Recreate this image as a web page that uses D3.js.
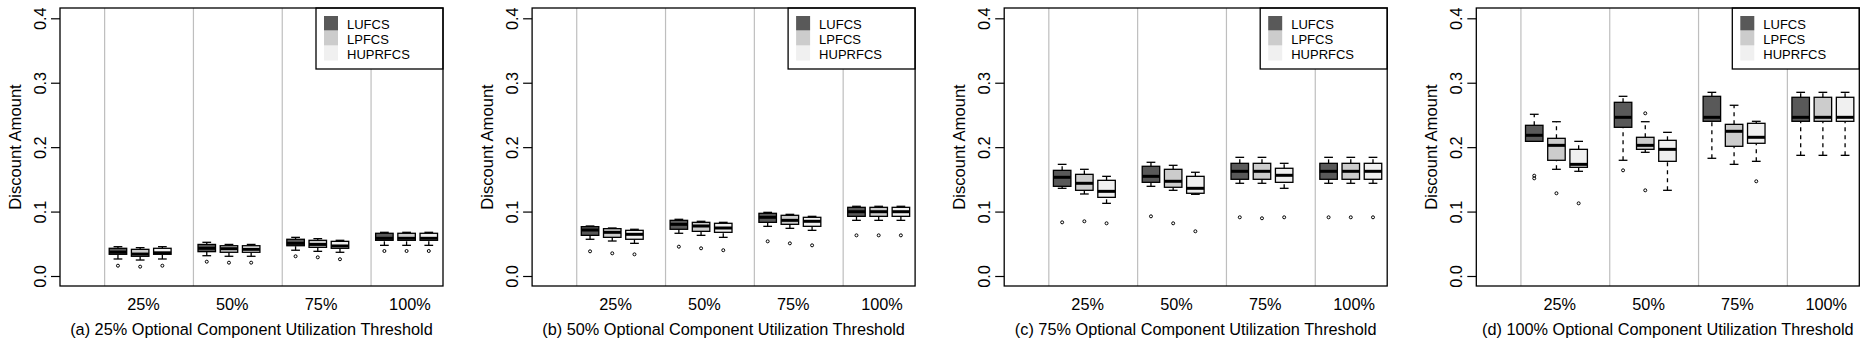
<!DOCTYPE html>
<html>
<head>
<meta charset="utf-8">
<script src="https://cdn.jsdelivr.net/npm/d3@7"></script>
<style>
  body { margin: 0; background: #fff; }
  svg text { font-family: "Liberation Sans", Arial, sans-serif; fill: #000; }
</style>
</head>
<body>
<svg></svg>
<script>
// data: each box is [lowWhisker, q1, median, q3, highWhisker]
let seriesNames = ["LUFCS", "LPFCS", "HUPRFCS"];
let groupLabels = ["25%", "50%", "75%", "100%"];
let yTicks = [0, 0.1, 0.2, 0.3, 0.4];
let panelTitles = [
    "(a) 25% Optional Component Utilization Threshold",
    "(b) 50% Optional Component Utilization Threshold",
    "(c) 75% Optional Component Utilization Threshold",
    "(d) 100% Optional Component Utilization Threshold"
];

let boxesA = [
    [[0.0264, 0.0337, 0.037, 0.043, 0.0455], [0.0315, 0.0378, 0.043, 0.049, 0.0523], [0.040, 0.047, 0.0507, 0.057, 0.060], [0.0476, 0.0554, 0.0585, 0.0663, 0.0678]],
    [[0.0248, 0.0306, 0.034, 0.0414, 0.044], [0.0306, 0.0368, 0.0424, 0.047, 0.049], [0.0383, 0.0445, 0.049, 0.0554, 0.058], [0.0476, 0.0554, 0.0585, 0.0663, 0.0678]],
    [[0.0264, 0.0337, 0.036, 0.043, 0.0455], [0.0306, 0.0368, 0.0414, 0.047, 0.049], [0.0368, 0.043, 0.0466, 0.0538, 0.0554], [0.0476, 0.0554, 0.0585, 0.0663, 0.0678]]
];
let outliersA = [
    [[0.016], [0.0222], [0.0306], [0.0388]],
    [[0.0145], [0.0207], [0.029], [0.0388]],
    [[0.016], [0.0207], [0.026], [0.0388]]
];

let boxesB = [
    [[0.057, 0.0631, 0.0714, 0.0766, 0.0776], [0.0663, 0.0725, 0.0802, 0.0864, 0.088], [0.0771, 0.0833, 0.0911, 0.0973, 0.0988], [0.0864, 0.0926, 0.0998, 0.1066, 0.1082]],
    [[0.0543, 0.060, 0.0678, 0.0735, 0.0745], [0.0631, 0.0693, 0.0776, 0.0833, 0.0849], [0.074, 0.0802, 0.0864, 0.0942, 0.0957], [0.0864, 0.0926, 0.0998, 0.1066, 0.1082]],
    [[0.0507, 0.057, 0.0647, 0.0709, 0.0725], [0.060, 0.0678, 0.0745, 0.0818, 0.0833], [0.0709, 0.0771, 0.0849, 0.0911, 0.0926], [0.0864, 0.0926, 0.0998, 0.1066, 0.1082]]
];
let outliersB = [
    [[0.0383], [0.0455], [0.0538], [0.0631]],
    [[0.0352], [0.043], [0.0507], [0.0631]],
    [[0.0336], [0.040], [0.0476], [0.0631]]
];

let boxesC = [
    [[0.1361, 0.1392, 0.1532, 0.164, 0.1733], [0.1392, 0.1454, 0.1547, 0.1703, 0.1765], [0.1439, 0.1501, 0.1625, 0.1749, 0.1842], [0.1439, 0.1501, 0.1625, 0.1749, 0.1842]],
    [[0.1273, 0.133, 0.1439, 0.1578, 0.1656], [0.133, 0.1377, 0.147, 0.1656, 0.1718], [0.1439, 0.1501, 0.1625, 0.1749, 0.1842], [0.1439, 0.1501, 0.1625, 0.1749, 0.1842]],
    [[0.1128, 0.1221, 0.1314, 0.1485, 0.1547], [0.1268, 0.1284, 0.1361, 0.1547, 0.161], [0.1361, 0.1454, 0.1563, 0.1672, 0.1749], [0.1439, 0.1501, 0.1625, 0.1749, 0.1842]]
];
let outliersC = [
    [[0.0833], [0.0926], [0.0911], [0.0911]],
    [[0.0849], [0.0818], [0.0896], [0.0911]],
    [[0.0818], [0.0694], [0.0911], [0.0911]]
];

let boxesD = [
    [[0.209, 0.209, 0.2184, 0.2339, 0.251], [0.1796, 0.2308, 0.2463, 0.2696, 0.2789], [0.1827, 0.2401, 0.2463, 0.2789, 0.2851], [0.1873, 0.2401, 0.2463, 0.2774, 0.2851]],
    [[0.1656, 0.1796, 0.2028, 0.2137, 0.2395], [0.192, 0.1966, 0.2028, 0.2153, 0.2395], [0.1733, 0.2013, 0.2246, 0.2354, 0.265], [0.1873, 0.2401, 0.2463, 0.2774, 0.2851]],
    [[0.1625, 0.1687, 0.1733, 0.1966, 0.209], [0.133, 0.178, 0.1966, 0.2106, 0.223], [0.178, 0.206, 0.2153, 0.237, 0.2401], [0.1873, 0.2401, 0.2463, 0.2774, 0.2851]]
];
let outliersD = [
    [[0.1557, 0.1516], [0.164], [], []],
    [[0.1284], [0.2525, 0.133], [], []],
    [[0.1128], [], [0.147], []]
];

let panels = [
    {title: panelTitles[0], boxes: boxesA, outliers: outliersA},
    {title: panelTitles[1], boxes: boxesB, outliers: outliersB},
    {title: panelTitles[2], boxes: boxesC, outliers: outliersC},
    {title: panelTitles[3], boxes: boxesD, outliers: outliersD}
];

let colors = ["#595959", "#cccccc", "#f0f0f0"];

let width = 1866;
let height = 347;
let plotLeft = 60;
let plotTop = 8;
let plotW = 383;
let plotH = 278;
let panelStep = 472.1;
let boxW = 17.5;

let svg = d3.select("svg")
            .attr("width", width)
            .attr("height", height)

// positions: group g, series s -> 4*g + s + 1
let xScale = d3.scaleLinear()
               .domain([-1.61, 15.64])
               .range([0, plotW])

let yScale = d3.scaleLinear()
               .domain([0, 0.4])
               .range([268, 10.3])

let drawPanel = (panel, i) => {
    let g = svg.append("g")
               .attr("transform", "translate(" + (plotLeft + i * panelStep) + "," + plotTop + ")")

    // grey separators between groups
    g.selectAll(".sep")
     .data(groupLabels)
     .enter()
     .append("line")
     .attr("x1", (d, k) => xScale(4 * k + 0.4))
     .attr("x2", (d, k) => xScale(4 * k + 0.4))
     .attr("y1", 0)
     .attr("y2", plotH)
     .attr("stroke", "#bebebe")
     .attr("stroke-width", 1.2)

    // legend
    let leg = g.append("g").attr("transform", "translate(256,0)")
    leg.append("rect")
       .attr("width", 127).attr("height", 61)
       .attr("fill", "#fff").attr("stroke", "#000").attr("stroke-width", 1.3)
    leg.selectAll(".sw")
       .data(seriesNames)
       .enter()
       .append("rect")
       .attr("x", 8)
       .attr("y", (d, k) => 8 + k * 15)
       .attr("width", 14)
       .attr("height", 14.5)
       .attr("fill", (d, k) => colors[k])
    leg.selectAll(".lt")
       .data(seriesNames)
       .enter()
       .append("text")
       .attr("x", 31)
       .attr("y", (d, k) => 21.3 + k * 15)
       .style("font-size", "13px")
       .text((d) => d)

    // boxes
    panel.boxes.forEach((rows, s) => {
        rows.forEach((b, k) => {
            let cx = xScale(4 * k + s + 1)
            let bg = g.append("g")
            let whisk = [[b[0], b[1]], [b[3], b[4]]]
            bg.selectAll(".wh")
              .data(whisk)
              .enter()
              .append("line")
              .attr("x1", cx).attr("x2", cx)
              .attr("y1", (d) => yScale(d[0]))
              .attr("y2", (d) => yScale(d[1]))
              .attr("stroke", "#000")
              .attr("stroke-width", 1.3)
              .attr("stroke-dasharray", "4,4")
            bg.selectAll(".cap")
              .data([b[0], b[4]])
              .enter()
              .append("line")
              .attr("x1", cx - boxW / 4).attr("x2", cx + boxW / 4)
              .attr("y1", (d) => yScale(d))
              .attr("y2", (d) => yScale(d))
              .attr("stroke", "#000")
              .attr("stroke-width", 1.3)
            bg.append("rect")
              .attr("x", cx - boxW / 2)
              .attr("y", yScale(b[3]))
              .attr("width", boxW)
              .attr("height", yScale(b[1]) - yScale(b[3]))
              .attr("fill", colors[s])
              .attr("stroke", "#000")
              .attr("stroke-width", 1.3)
            bg.append("line")
              .attr("x1", cx - boxW / 2).attr("x2", cx + boxW / 2)
              .attr("y1", yScale(b[2])).attr("y2", yScale(b[2]))
              .attr("stroke", "#000")
              .attr("stroke-width", 3)
            bg.selectAll(".out")
              .data(panel.outliers[s][k])
              .enter()
              .append("circle")
              .attr("cx", cx)
              .attr("cy", (d) => yScale(d))
              .attr("r", 1.5)
              .attr("fill", "none")
              .attr("stroke", "#000")
              .attr("stroke-width", 1)
        })
    })

    // frame
    g.append("rect")
     .attr("width", plotW)
     .attr("height", plotH)
     .attr("fill", "none")
     .attr("stroke", "#000")
     .attr("stroke-width", 1.3)

    // y axis
    let yAxis = g.append("g")
                 .call(d3.axisLeft(yScale).tickValues(yTicks).tickSize(9).tickFormat(d3.format(".1f")))
    yAxis.select(".domain").remove()
    yAxis.selectAll("line").attr("stroke", "#000").attr("stroke-width", 1.2)
    yAxis.selectAll("text")
         .attr("x", null).attr("dy", null)
         .attr("transform", "translate(-14,0) rotate(-90)")
         .attr("text-anchor", "middle")
         .style("font-size", "16.3px")
         .style("font-family", "'Liberation Sans', Arial, sans-serif")

    // group labels
    g.selectAll(".gl")
     .data(groupLabels)
     .enter()
     .append("text")
     .attr("x", (d, k) => xScale(4 * k + 2.15))
     .attr("y", 302)
     .attr("text-anchor", "middle")
     .style("font-size", "16.3px")
     .text((d) => d)

    g.append("text")
     .attr("x", plotW / 2)
     .attr("y", 327)
     .attr("text-anchor", "middle")
     .style("font-size", "16.3px")
     .text(panel.title)

    g.append("text")
     .attr("transform", "translate(-39," + (plotH / 2) + ") rotate(-90)")
     .attr("text-anchor", "middle")
     .style("font-size", "16.6px")
     .text("Discount Amount")
}

panels.forEach(drawPanel)
</script>
</body>
</html>
